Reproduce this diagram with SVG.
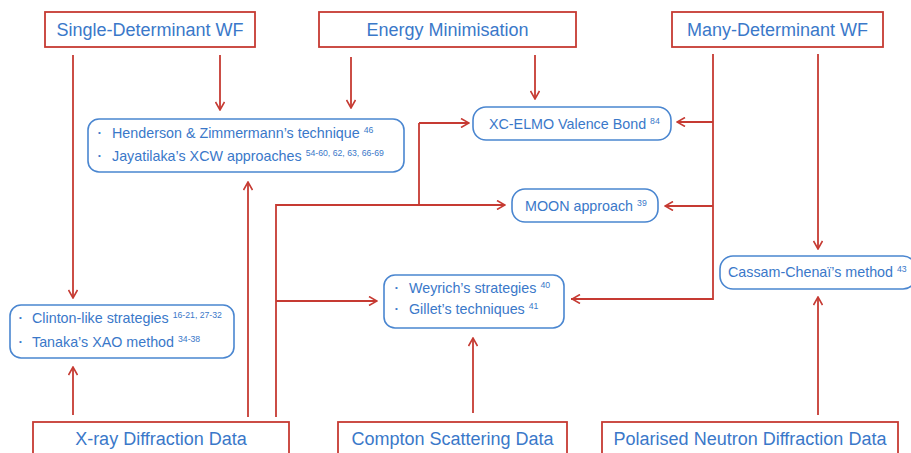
<svg xmlns="http://www.w3.org/2000/svg" width="911" height="453" viewBox="0 0 911 453">
<defs>
<marker id="arr" viewBox="0 0 10 10" refX="9" refY="5" markerWidth="10" markerHeight="10" markerUnits="userSpaceOnUse" orient="auto">
<path d="M1,0.5 L9,5 L1,9.5" fill="none" stroke="#c63a32" stroke-width="1.6"/>
</marker>
<style>
.rb{fill:#fff;stroke:#c63a32;stroke-width:1.8}
.bb{fill:#fff;stroke:#4a86d0;stroke-width:1.6}
.t{font-family:"Liberation Sans",Arial,sans-serif;fill:#3a78c9}
.big{font-size:18px}
.sm{font-size:14.3px}
.sup{font-size:8.7px}
.bul{font-size:8px}
.c{fill:none;stroke:#c63a32;stroke-width:1.8}
.a{marker-end:url(#arr)}
</style>
</defs>
<rect width="911" height="453" fill="#fff"/>
<g id="connectors">
<path class="c a" d="M73,55 V298"/>
<path class="c a" d="M220,55 V110"/>
<path class="c a" d="M351,57 V108"/>
<path class="c a" d="M535,55 V99"/>
<path class="c" d="M713,54 V299 H571"/>
<path class="c a" d="M713,299 H572"/>
<path class="c a" d="M713,122 H677"/>
<path class="c a" d="M713,206 H665"/>
<path class="c a" d="M818,54 V249"/>
<path class="c a" d="M73,415 V367"/>
<path class="c a" d="M248,417 V182"/>
<path class="c" d="M276,417 V205 H419 V123"/>
<path class="c a" d="M419,123 H469"/>
<path class="c a" d="M419,205 H505"/>
<path class="c a" d="M276,301 H377"/>
<path class="c a" d="M473,413 V338"/>
<path class="c a" d="M818,415 V297"/>
</g>
<g id="single-det">
<rect class="rb" x="45" y="12" width="210" height="35"/>
<text class="t big" x="150" y="36" text-anchor="middle">Single-Determinant WF</text>
</g>
<g id="energy-min">
<rect class="rb" x="319" y="12" width="257" height="35"/>
<text class="t big" x="447.5" y="36" text-anchor="middle">Energy Minimisation</text>
</g>
<g id="many-det">
<rect class="rb" x="672" y="12" width="211" height="35"/>
<text class="t big" x="777.5" y="36" text-anchor="middle">Many-Determinant WF</text>
</g>
<g id="henderson">
<rect class="bb" x="88" y="119" width="316" height="53" rx="11"/>
<text class="t bul" x="98" y="135">•</text>
<text class="t sm" x="112" y="138">Henderson &amp; Zimmermann’s technique <tspan class="sup" dy="-5">46</tspan></text>
<text class="t bul" x="98" y="158">•</text>
<text class="t sm" x="112" y="161">Jayatilaka’s XCW approaches <tspan class="sup" dy="-5">54-60, 62, 63, 66-69</tspan></text>
</g>
<g id="xc-elmo">
<rect class="bb" x="473" y="107" width="198" height="33" rx="13"/>
<text class="t sm" x="489" y="129">XC-ELMO Valence Bond <tspan class="sup" dy="-5">84</tspan></text>
</g>
<g id="moon">
<rect class="bb" x="512" y="189" width="146" height="33" rx="13"/>
<text class="t sm" x="525" y="211">MOON approach <tspan class="sup" dy="-5">39</tspan></text>
</g>
<g id="weyrich">
<rect class="bb" x="384" y="275" width="180" height="53" rx="11"/>
<text class="t bul" x="395" y="290">•</text>
<text class="t sm" x="409" y="293">Weyrich’s strategies <tspan class="sup" dy="-5">40</tspan></text>
<text class="t bul" x="395" y="311">•</text>
<text class="t sm" x="409" y="314">Gillet’s techniques <tspan class="sup" dy="-5">41</tspan></text>
</g>
<g id="clinton">
<rect class="bb" x="10" y="305" width="224" height="53" rx="11"/>
<text class="t bul" x="19" y="320">•</text>
<text class="t sm" x="32" y="323">Clinton-like strategies <tspan class="sup" dy="-5">16-21, 27-32</tspan></text>
<text class="t bul" x="19" y="344">•</text>
<text class="t sm" x="32" y="347">Tanaka’s XAO method <tspan class="sup" dy="-5">34-38</tspan></text>
</g>
<g id="cassam">
<rect class="bb" x="720" y="256" width="196" height="33" rx="13"/>
<text class="t sm" x="728" y="277">Cassam-Chenaï’s method <tspan class="sup" dy="-5">43</tspan></text>
</g>
<g id="xray">
<rect class="rb" x="33" y="422" width="256" height="45"/>
<text class="t big" x="161" y="445" text-anchor="middle">X-ray Diffraction Data</text>
</g>
<g id="compton">
<rect class="rb" x="338" y="422" width="229" height="45"/>
<text class="t big" x="452.5" y="445" text-anchor="middle">Compton Scattering Data</text>
</g>
<g id="neutron">
<rect class="rb" x="602" y="422" width="296" height="45"/>
<text class="t big" x="750" y="445" text-anchor="middle">Polarised Neutron Diffraction Data</text>
</g>
</svg>
